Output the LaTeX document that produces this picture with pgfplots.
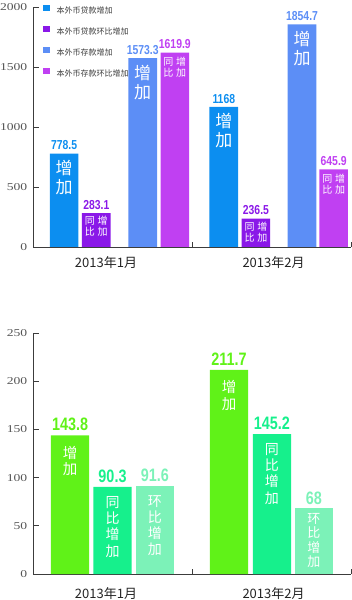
\documentclass[border=0pt]{standalone}
\usepackage{pgfplots}
\pgfplotsset{compat=1.18}
\usepackage{fontspec}
\setmainfont{Noto Sans CJK SC}
\newfontfamily\tickfont[FakeStretch=1.3]{Liberation Serif}
\newfontfamily\valfont[FakeStretch=0.8]{Liberation Sans}
\definecolor{cA}{RGB}{12,142,240}
\definecolor{cB}{RGB}{138,24,232}
\definecolor{cC}{RGB}{92,142,246}
\definecolor{cD}{RGB}{192,64,242}
\definecolor{gA}{RGB}{96,242,24}
\definecolor{gB}{RGB}{22,240,140}
\definecolor{gC}{RGB}{124,242,184}
\definecolor{axc}{RGB}{60,60,60}
\definecolor{tkc}{RGB}{85,85,85}
\definecolor{lbc}{RGB}{35,35,35}
\definecolor{lgc}{RGB}{60,60,60}
\pgfplotsset{
  vals/.style n args={3}{nodes near coords={\pgfplotspointmeta}, point meta=explicit symbolic,
    every node near coord/.append style={font=\valfont\bfseries\fontsize{#2}{#2}\selectfont, text=#1, inner sep=0pt, anchor=south, yshift=#3}},
  inner/.style n args={3}{every node near coord/.append style={label={[inner sep=0pt, text=white, font=#1, align=center, label distance=#2]below:{#3}}}},
  common/.style={
    scale only axis, xmin=0, xmax=2, ymin=0, clip=false,
    axis x line*=bottom, axis y line*=left,
    axis line style={draw=axc, line width=0.8pt},
    tick align=inside, major tick length=6pt,
    ytick style={draw=axc, line width=0.8pt},
    xtick={0.459,1.513}, xticklabels={2013年1月,2013年2月},
    major x tick style={draw=none},
    minor xtick={1,2}, minor tick length=5pt,
    minor x tick style={draw=axc, line width=0.8pt},
    /pgf/number format/assume math mode=true,
    /pgf/number format/1000 sep={},
    yticklabel style={font=\tickfont\fontsize{10.5}{10.5}\selectfont, text=tkc, inner sep=0pt, xshift=-5.5pt},
    legend image code/.code={\fill[##1] (0pt,-0.5pt) rectangle (6.5pt,6.1pt);},
  },
}
\begin{document}
\begin{tikzpicture}
\useasboundingbox (0pt,0pt) rectangle (352pt,600pt);
% ---------- top chart ----------
\begin{axis}[common,
  at={(33pt,353pt)}, anchor=south west,
  width=318pt, height=240pt, ymax=2000,
  ytick={0,500,1000,1500,2000},
  xticklabel style={font=\fontsize{13}{13}\selectfont, text=lbc, inner sep=0pt, yshift=-9.5pt},
  legend style={at={(axis description cs:0,1)}, anchor=north west, xshift=10pt, yshift=2.5pt,
    draw=none, fill=none, inner sep=0pt, row sep=10.8pt, column sep=7pt,
    font=\fontsize{8}{8}\selectfont, text=lgc, nodes={inner sep=0pt}},
  legend cell align=left,
]
\addplot[ybar, bar width=0.18, fill=cA, draw=none, forget plot,
  vals={cA}{13}{3.5pt}, inner={\fontsize{17}{19}\selectfont}{10pt}{增\\加}]
  coordinates {(0.196,778.5) [778.5] (1.200,1168) [1168]};
\addplot[ybar, bar width=0.18, fill=cB, draw=none, forget plot,
  vals={cB}{13}{3.5pt}, inner={\fontsize{10}{11}\selectfont}{6.5pt}{同\hspace{2.7pt}增\\比\hspace{2.7pt}加}]
  coordinates {(0.398,283.1) [283.1] (1.402,236.5) [236.5]};
\addplot[ybar, bar width=0.18, fill=cC, draw=none, forget plot,
  vals={cC}{13}{3.5pt}, inner={\fontsize{17}{19}\selectfont}{10.5pt}{增\\加}]
  coordinates {(0.690,1573.3) [1573.3] (1.692,1854.7) [1854.7]};
\addplot[ybar, bar width=0.18, fill=cD, draw=none, forget plot,
  vals={cD}{13}{3.5pt}, inner={\fontsize{10}{11}\selectfont}{8pt}{同\hspace{2.7pt}增\\比\hspace{2.7pt}加}]
  coordinates {(0.892,1619.9) [1619.9] (1.891,645.9) [645.9]};
\addlegendimage{fill=cA, draw=none}
\addlegendentry{本外币贷款增加}
\addlegendimage{fill=cB, draw=none}
\addlegendentry{本外币贷款环比增加}
\addlegendimage{fill=cC, draw=none}
\addlegendentry{本外币存款增加}
\addlegendimage{fill=cD, draw=none}
\addlegendentry{本外币存款环比增加}
\end{axis}
% ---------- bottom chart ----------
\begin{axis}[common,
  at={(33pt,26pt)}, anchor=south west,
  width=318pt, height=241pt, ymax=250,
  ytick={0,50,100,150,200,250},
  xticklabel style={font=\fontsize{13}{13}\selectfont, text=lbc, inner sep=0pt, yshift=-13.5pt},
]
\addplot[ybar, bar width=0.24, fill=gA, draw=none,
  vals={gA}{18}{4pt}, inner={\fontsize{14.5}{16.5}\selectfont}{14.5pt}{增\\加}]
  coordinates {(0.233,143.8) [143.8] (1.233,211.7) [211.7]};
\addplot[ybar, bar width=0.24, fill=gB, draw=none,
  vals={gB}{18}{4pt}, inner={\fontsize{14}{16.3}\selectfont}{13pt}{同\\比\\增\\加}]
  coordinates {(0.500,90.3) [90.3] (1.503,145.2) [145.2]};
\addplot[ybar, bar width=0.24, fill=gC, draw=none,
  vals={gC}{18}{4pt}, inner={\fontsize{14}{16.3}\selectfont}{13.3pt}{环\\比\\增\\加}]
  coordinates {(0.767,91.6) [91.6]};
\addplot[ybar, bar width=0.24, fill=gC, draw=none,
  vals={gC}{18}{4pt}, inner={\fontsize{13}{14.5}\selectfont}{8.5pt}{环\\比\\增\\加}]
  coordinates {(1.767,68) [68]};
\end{axis}
\end{tikzpicture}
\end{document}
